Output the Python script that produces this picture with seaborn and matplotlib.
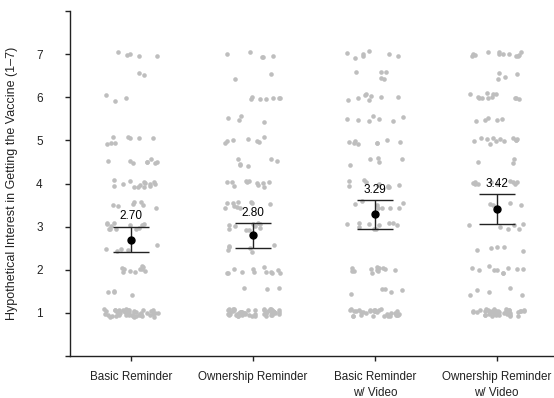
import matplotlib
matplotlib.use('Agg')
import matplotlib.pyplot as plt
import seaborn as sns
import numpy as np
import pandas as pd

POINT_COLOR = '#BEBEBE'
INK = '#222222'

# response levels (average of two 1-7 items) and how many people gave each
levels = [1, 1.5, 2, 2.5, 3, 3.5, 4, 4.5, 5, 5.5, 6, 6.5, 7]
counts_basic = [50, 4, 10, 5, 12, 7, 14, 8, 8, 0, 3, 2, 5]
counts_owner = [52, 3, 12, 6, 10, 10, 11, 6, 7, 4, 7, 2, 5]
counts_basic_video = [35, 5, 12, 0, 10, 8, 10, 5, 8, 7, 8, 5, 7]
counts_owner_video = [39, 5, 10, 5, 6, 4, 10, 3, 12, 5, 12, 4, 12]

groups = ['Basic Reminder', 'Ownership Reminder',
          'Basic Reminder\nw/ Video', 'Ownership Reminder\nw/ Video']
means = [2.70, 2.80, 3.29, 3.42]
ci_low = [2.41, 2.50, 2.95, 3.06]
ci_high = [3.00, 3.08, 3.62, 3.76]

rows = []
for g, cnts in zip(groups, [counts_basic, counts_owner, counts_basic_video, counts_owner_video]):
    for lv, c in zip(levels, cnts):
        rows += [(g, lv)] * c
df = pd.DataFrame(rows, columns=['condition', 'interest'])

sns.set_theme(style='ticks')
plt.rcParams['font.family'] = ['Liberation Sans', 'DejaVu Sans']
plt.rcParams['axes.linewidth'] = 1.0

fig = plt.figure(figsize=(5.54, 3.98), dpi=100)
ax = fig.add_axes([70 / 554, 1 - 356 / 398, 484 / 554, 345 / 398])

np.random.seed(3)
sns.stripplot(data=df, x='condition', y='interest', order=groups, color=POINT_COLOR,
              size=3.3, jitter=0.23, linewidth=0, ax=ax, zorder=1)

# small vertical jitter like geom_jitter
rng = np.random.default_rng(7)
for coll in ax.collections:
    off = coll.get_offsets()
    if len(off):
        off = np.array(off)
        off[:, 1] += rng.uniform(-0.09, 0.09, len(off))
        coll.set_offsets(off)

xpos = np.arange(len(groups))
m = np.array(means)
ax.errorbar(xpos, m, yerr=[m - np.array(ci_low), np.array(ci_high) - m], fmt='o',
            color='black', ecolor=INK, elinewidth=1.0, capsize=13, capthick=1.0,
            markersize=5, zorder=3)
for x, mu, hi in zip(xpos, means, ci_high):
    ax.annotate(f'{mu:.2f}', (x, hi), xytext=(0, 3), textcoords='offset points',
                ha='center', va='bottom', fontsize=8.5, color='black')

ax.set_xlim(-0.5, 3.47)
ax.set_ylim(0, 8)
ax.set_yticks(range(0, 9))
ax.set_yticklabels([''] + [str(i) for i in range(1, 8)] + [''])
ax.set_xlabel('')
ax.set_ylabel('Hypothetical Interest in Getting the Vaccine (1\u20137)', fontsize=9, color=INK)
ax.yaxis.set_label_coords(-0.107, 0.5)
ax.spines[['top', 'right']].set_visible(False)
for s in ['left', 'bottom']:
    ax.spines[s].set_color(INK)
ax.tick_params(axis='y', length=3.6, width=1.0, color=INK, pad=16, labelsize=8.5, labelcolor=INK)
ax.tick_params(axis='x', length=3.6, width=1.0, color=INK, pad=7, labelsize=8.4, labelcolor=INK)
for lbl in ax.get_xticklabels():
    lbl.set_linespacing(1.45)

plt.savefig('out.png', dpi=100)
